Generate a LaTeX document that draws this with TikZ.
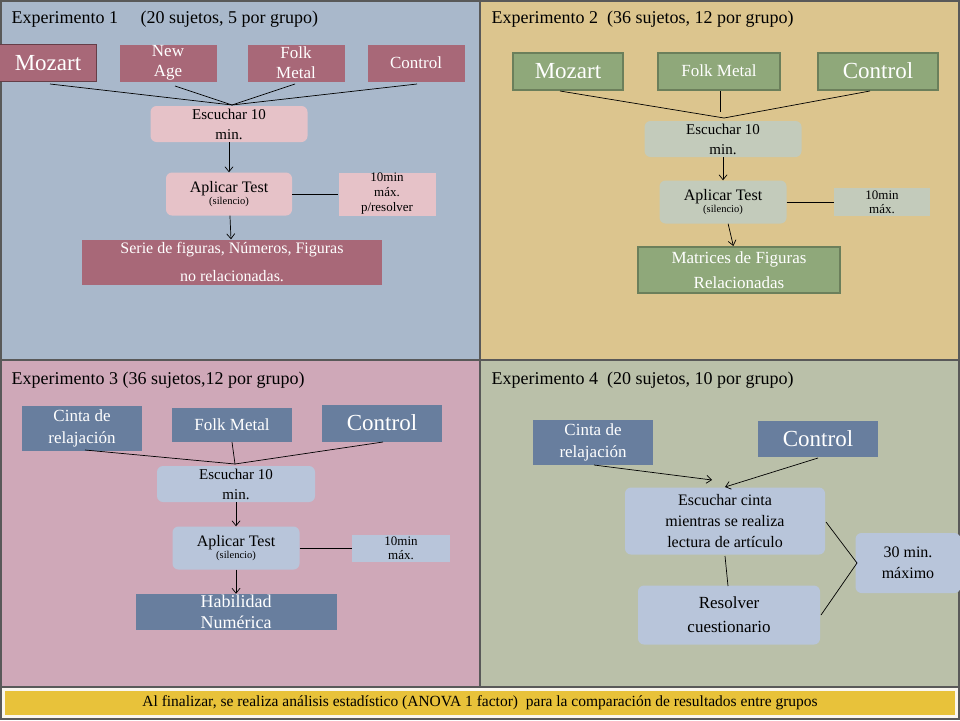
\documentclass[tikz,border=0pt]{standalone}
\usepackage{fontspec}
\setmainfont{Liberation Serif}
\usetikzlibrary{arrows.meta}
\definecolor{qa}{HTML}{A9B8CB}\definecolor{qb}{HTML}{DCC58E}
\definecolor{qc}{HTML}{CFA8B8}\definecolor{qd}{HTML}{BAC0A9}
\definecolor{rose}{HTML}{A86878}\definecolor{pink}{HTML}{E6C2C8}
\definecolor{grn}{HTML}{8FA87A}\definecolor{grnb}{HTML}{6B7F5B}\definecolor{grl}{HTML}{C3CBBB}
\definecolor{slate}{HTML}{687E9E}\definecolor{slatel}{HTML}{B8C5DA}
\definecolor{foot}{HTML}{E8C23A}
\tikzset{
 bx/.style={minimum width=#1, inner sep=0pt, align=center},
 dark/.style={fill=rose,text=white},
 light/.style={fill=pink,rounded corners=6pt,text=black},
 gdark/.style={fill=grn,draw=grnb,line width=2pt,text=white},
 glight/.style={fill=grl,rounded corners=6pt,text=black},
 sdark/.style={fill=slate,text=white},
 slight/.style={fill=slatel,rounded corners=6pt,text=black},
 ttl/.style={anchor=west,font=\fontsize{18}{20}\selectfont},
 ln/.style={draw=black,line width=0.7pt},
 ar/.style={ln,-{Straight Barb[length=5pt,width=8pt]}}
}
\begin{document}
\begin{tikzpicture}[x=1pt,y=-1pt]
\useasboundingbox (0,0) rectangle (960,720);
\fill[gray!70!black] (0,0) rectangle (960,720);
\fill[qa] (2,2) rectangle (479,359);
\fill[qb] (481,2) rectangle (958,359);
\fill[qc] (2,361) rectangle (479,686);
\fill[qd] (481,361) rectangle (958,686);
\fill[white!85!qb] (2,688) rectangle (958,718);
\fill[foot] (5,691) rectangle (955,715);
\node[font=\fontsize{15.5}{17}\selectfont] (ft) at (480,703) {Al finalizar, se realiza análisis estadístico (ANOVA 1 factor)\ \ para la comparación de resultados entre grupos};
% Q1
\node[ttl] (t1) at (8,19) {Experimento 1 \quad (20 sujetos, 5 por grupo)};
\node[bx=97pt,dark,minimum height=37pt,draw=rose!60!black,line width=1.5pt,font=\fontsize{23}{25}\selectfont] (m1) at (48,63) {Mozart};
\node[bx=97pt,dark,minimum height=37pt,font=\fontsize{17}{20}\selectfont] (n1) at (168,63) {New\\Age};
\node[bx=97pt,dark,minimum height=37pt,font=\fontsize{17}{20}\selectfont] (f1) at (296,63) {Folk\\Metal};
\node[bx=97pt,dark,minimum height=37pt,font=\fontsize{17}{20}\selectfont] (c1) at (416,63) {Control};
\coordinate (j1) at (232,105);
\node[bx=157pt,light,minimum height=36pt,font=\fontsize{15}{20}\selectfont] (e1) at (229,124) {Escuchar 10\\min.};
\node[bx=126pt,light,minimum height=43pt] (a1) at (229,194) {\fontsize{16}{18}\selectfont Aplicar Test\\\fontsize{10.5}{13}\selectfont (silencio)};
\node[bx=97pt,fill=pink,minimum height=43pt,font=\fontsize{13}{15}\selectfont] (x1) at (387,194) {10min\\máx.\\p/resolver};
\node[bx=300pt,dark,minimum height=45pt,font=\fontsize{16}{28}\selectfont] (s1) at (232,262) {Serie de figuras, Números, Figuras\\no relacionadas.};
\draw[ln] (50,84) -- (j1); \draw[ln] (175,86) -- (j1); \draw[ln] (295,84) -- (j1); \draw[ln] (417,84) -- (j1);
\draw[ar] (e1) -- (a1); \draw[ln] (a1) -- (x1); \draw[ar] (a1) -- (s1);
% Q2
\node[ttl] (t2) at (488,19) {Experimento 2\ \ (36 sujetos, 12 por grupo)};
\node[bx=110pt,gdark,minimum height=37pt,font=\fontsize{23}{25}\selectfont] (m2) at (568,71) {Mozart};
\node[bx=122pt,gdark,minimum height=37pt,font=\fontsize{17}{19}\selectfont] (f2) at (719,71) {Folk Metal};
\node[bx=120pt,gdark,minimum height=37pt,font=\fontsize{23}{25}\selectfont] (c2) at (878,71) {Control};
\coordinate (j2) at (724,118);
\node[bx=157pt,glight,minimum height=36pt,font=\fontsize{15}{20}\selectfont] (e2) at (723,139) {Escuchar 10\\min.};
\node[bx=127pt,glight,minimum height=43pt] (a2) at (723,202) {\fontsize{16}{18}\selectfont Aplicar Test\\\fontsize{10.5}{13}\selectfont (silencio)};
\node[bx=96pt,fill=grl,minimum height=28pt,font=\fontsize{13}{14}\selectfont] (x2) at (882,202) {10min\\máx.};
\node[bx=202pt,gdark,minimum height=46pt,text=white,font=\fontsize{17}{25}\selectfont] (s2) at (739,270) {Matrices de Figuras\\Relacionadas};
\draw[ln] (560,91) -- (j2); \draw[ln] (720,91) -- (720,112); \draw[ln] (870,91) -- (j2);
\draw[ar] (e2) -- (a2); \draw[ln] (a2) -- (x2); \draw[ar] (a2) -- (s2);
% Q3
\node[ttl] (t3) at (8,380) {Experimento 3 (36 sujetos,12 por grupo)};
\node[bx=120pt,sdark,minimum height=45pt,font=\fontsize{17}{22}\selectfont] (m3) at (82,428) {Cinta de\\relajación};
\node[bx=120pt,sdark,minimum height=34pt,font=\fontsize{17}{19}\selectfont] (f3) at (232,425) {Folk Metal};
\node[bx=120pt,sdark,minimum height=37pt,font=\fontsize{23}{25}\selectfont] (c3) at (382,423) {Control};
\coordinate (j3) at (235,464);
\node[bx=158pt,slight,minimum height=36pt,font=\fontsize{15}{20}\selectfont] (e3) at (236,484) {Escuchar 10\\min.};
\node[bx=127pt,slight,minimum height=43pt] (a3) at (236,548) {\fontsize{16}{18}\selectfont Aplicar Test\\\fontsize{10.5}{13}\selectfont (silencio)};
\node[bx=98pt,fill=slatel,minimum height=27pt,font=\fontsize{13}{14}\selectfont] (x3) at (401,548) {10min\\máx.};
\node[bx=201pt,sdark,minimum height=36pt,font=\fontsize{18}{21}\selectfont] (s3) at (236,612) {Habilidad\\Numérica};
\draw[ln] (85,450) -- (j3); \draw[ln] (232,442) -- (j3); \draw[ln] (383,442) -- (j3);
\draw[ar] (e3) -- (a3); \draw[ln] (a3) -- (x3); \draw[ar] (a3) -- (s3);
% Q4
\node[ttl] (t4) at (488,380) {Experimento 4\ \ (20 sujetos, 10 por grupo)};
\node[bx=120pt,sdark,minimum height=45pt,font=\fontsize{17}{22}\selectfont] (m4) at (593,442) {Cinta de\\relajación};
\node[bx=120pt,sdark,minimum height=36pt,font=\fontsize{23}{25}\selectfont] (c4) at (818,439) {Control};
\node[bx=200pt,slight,minimum height=67pt,font=\fontsize{16}{21}\selectfont] (e4) at (725,521) {Escuchar cinta\\mientras se realiza\\lectura de artículo};
\node[bx=182pt,slight,minimum height=59pt,font=\fontsize{17}{24}\selectfont] (r4) at (729,615) {Resolver\\cuestionario};
\node[bx=105pt,slight,minimum height=60pt,font=\fontsize{16}{21}\selectfont] (z4) at (908,563) {30 min.\\máximo};
\coordinate (k4) at (857,563);
\draw[ar] (594,465) -- (712,480); \draw[ar] (818,458) -- (725,487);
\draw[ln] (725,556) -- (728,586);
\draw[ln] (826,522) -- (k4); \draw[ln] (821,615) -- (k4);
\end{tikzpicture}
\end{document}
